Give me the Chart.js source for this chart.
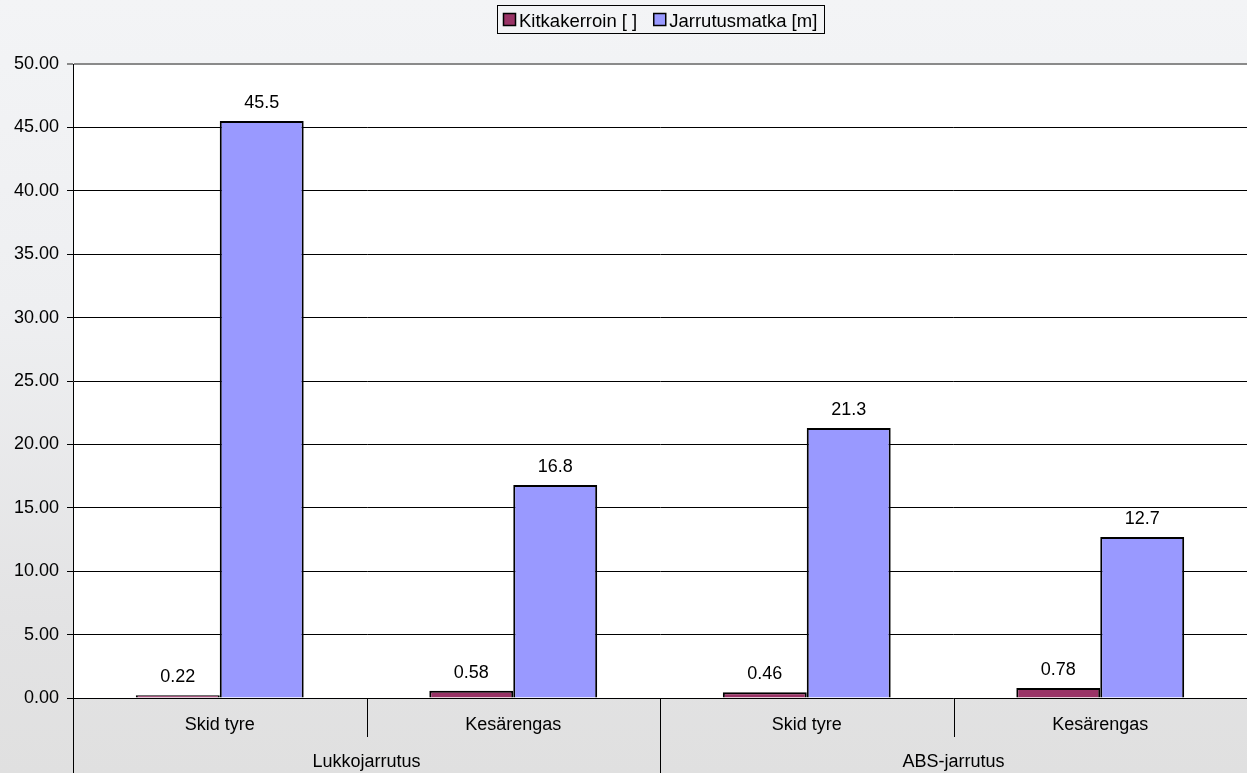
<!DOCTYPE html>
<html>
<head>
<meta charset="utf-8">
<script src="https://cdn.jsdelivr.net/npm/chart.js@4.4.0/dist/chart.umd.min.js"></script>
<style>
  html, body { margin: 0; padding: 0; }
  body { width: 1247px; height: 773px; overflow: hidden;
         background: linear-gradient(to bottom, #f3f4f6 0%, #eeeff1 40%, #e3e3e4 80%, #e0e0e0 100%); }
  #c { display: block; }
</style>
</head>
<body>
<canvas id="c" width="1247" height="773"></canvas>
<script>
const categories = ["Skid tyre", "Kesärengas", "Skid tyre", "Kesärengas"];
const groups = ["Lukkojarrutus", "ABS-jarrutus"];
const seriesNames = ["Kitkakerroin [ ]", "Jarrutusmatka [m]"];
const kitkakerroin = [0.22, 0.58, 0.46, 0.78];
const jarrutusmatka = [45.5, 16.8, 21.3, 12.7];
const yTicks = { min: 0, max: 50, step: 5 };

const FONT = "'Liberation Sans', Arial, sans-serif";
const FS = 18;

const labelsPlugin = {
  id: 'customDraw',
  beforeDraw(chart) {
    const a = chart.chartArea;
    const ctx = chart.ctx;
    ctx.save();
    ctx.fillStyle = '#ffffff';
    ctx.fillRect(a.left, a.top, a.right - a.left, a.bottom - a.top);
    ctx.restore();
  },
  afterDatasetsDraw(chart) {
    const ctx = chart.ctx;
    ctx.save();
    ctx.font = FS + "px " + FONT;
    ctx.fillStyle = '#000';
    ctx.textAlign = 'center';
    ctx.textBaseline = 'alphabetic';
    chart.data.datasets.forEach((ds, di) => {
      const meta = chart.getDatasetMeta(di);
      meta.data.forEach((bar, i) => {
        ctx.fillText(String(ds.data[i]), bar.x, bar.y - 13);
      });
    });
    ctx.restore();
  },
  afterDraw(chart) {
    const ctx = chart.ctx;
    const area = chart.chartArea;
    const xs = chart.scales.x;
    const H = chart.height;
    ctx.save();
    ctx.strokeStyle = '#000';
    ctx.lineWidth = 1;
    const n = categories.length;
    const step = (area.right - area.left) / n;
    ctx.beginPath();
    for (let i = 1; i < n; i++) {
      const bx = Math.round(area.left + step * i) + 0.5;
      ctx.moveTo(bx, area.bottom);
      ctx.lineTo(bx, (i % 2 === 0) ? H : area.bottom + 39);
    }
    const lx = Math.round(area.left) + 0.5;
    ctx.moveTo(lx, area.bottom);
    ctx.lineTo(lx, H);
    ctx.stroke();

    ctx.font = FS + "px " + FONT;
    ctx.fillStyle = '#000';
    ctx.textAlign = 'center';
    ctx.textBaseline = 'alphabetic';
    categories.forEach((c, i) => {
      ctx.fillText(c, xs.getPixelForValue(i), area.bottom + 32);
    });
    groups.forEach((g, gi) => {
      const cx = (xs.getPixelForValue(gi * 2) + xs.getPixelForValue(gi * 2 + 1)) / 2;
      ctx.fillText(g, cx, area.bottom + 69);
    });

    // legend
    const items = chart.data.datasets.map(d => ({ text: d.label, color: d.backgroundColor }));
    ctx.font = "18.5px " + FONT;
    const sw = 12, gapSw = 4, gapItem = 16, padL = 6, padR = 7;
    let total = 0;
    items.forEach((it, i) => {
      total += sw + gapSw + ctx.measureText(it.text).width + (i < items.length - 1 ? gapItem : 0);
    });
    const boxW = Math.round(total + padL + padR);
    const cxA = (area.left + area.right) / 2;
    const boxX = Math.round(cxA - boxW / 2);
    const boxY = 5, boxH = 28;
    ctx.strokeStyle = '#000';
    ctx.lineWidth = 1;
    ctx.strokeRect(boxX + 0.5, boxY + 0.5, boxW, boxH);
    let x = boxX + padL;
    items.forEach((it) => {
      ctx.fillStyle = it.color;
      ctx.fillRect(x + 0.5, 13.5, sw, sw);
      ctx.strokeStyle = '#000';
      ctx.lineWidth = 1.5;
      ctx.strokeRect(x + 0.5, 13.5, sw, sw);
      ctx.fillStyle = '#000';
      ctx.textAlign = 'left';
      ctx.fillText(it.text, x + sw + gapSw, 27);
      x += sw + gapSw + ctx.measureText(it.text).width + gapItem;
    });
    ctx.restore();
  }
};

new Chart(document.getElementById('c'), {
  type: 'bar',
  data: {
    labels: categories,
    datasets: [
      { label: seriesNames[0], data: kitkakerroin, backgroundColor: '#993366', borderColor: '#000', borderWidth: 2 },
      { label: seriesNames[1], data: jarrutusmatka, backgroundColor: '#9999FF', borderColor: '#000', borderWidth: 2 }
    ]
  },
  options: {
    responsive: false,
    animation: false,
    layout: { padding: { top: 64, right: 0, bottom: 75, left: 0 } },
    plugins: { legend: { display: false }, tooltip: { enabled: false } },
    datasets: { bar: { categoryPercentage: 0.572, barPercentage: 1.0 } },
    scales: {
      x: { display: false, grid: { display: false } },
      y: {
        min: yTicks.min, max: yTicks.max,
        afterFit(scale) { scale.width = 73; },
        ticks: {
          stepSize: yTicks.step,
          padding: 8,
          color: '#000',
          font: { family: FONT, size: FS },
          callback: v => Number(v).toFixed(2)
        },
        grid: {
          color: ctx => (ctx.tick && ctx.tick.value === yTicks.max) ? '#8a8a8a' : '#000',
          lineWidth: ctx => (ctx.tick && ctx.tick.value === yTicks.max) ? 2 : 1,
          tickLength: 6,
          drawTicks: true
        },
        border: { display: true, color: '#000', width: 1 }
      }
    }
  },
  plugins: [labelsPlugin]
});
</script>
</body>
</html>
